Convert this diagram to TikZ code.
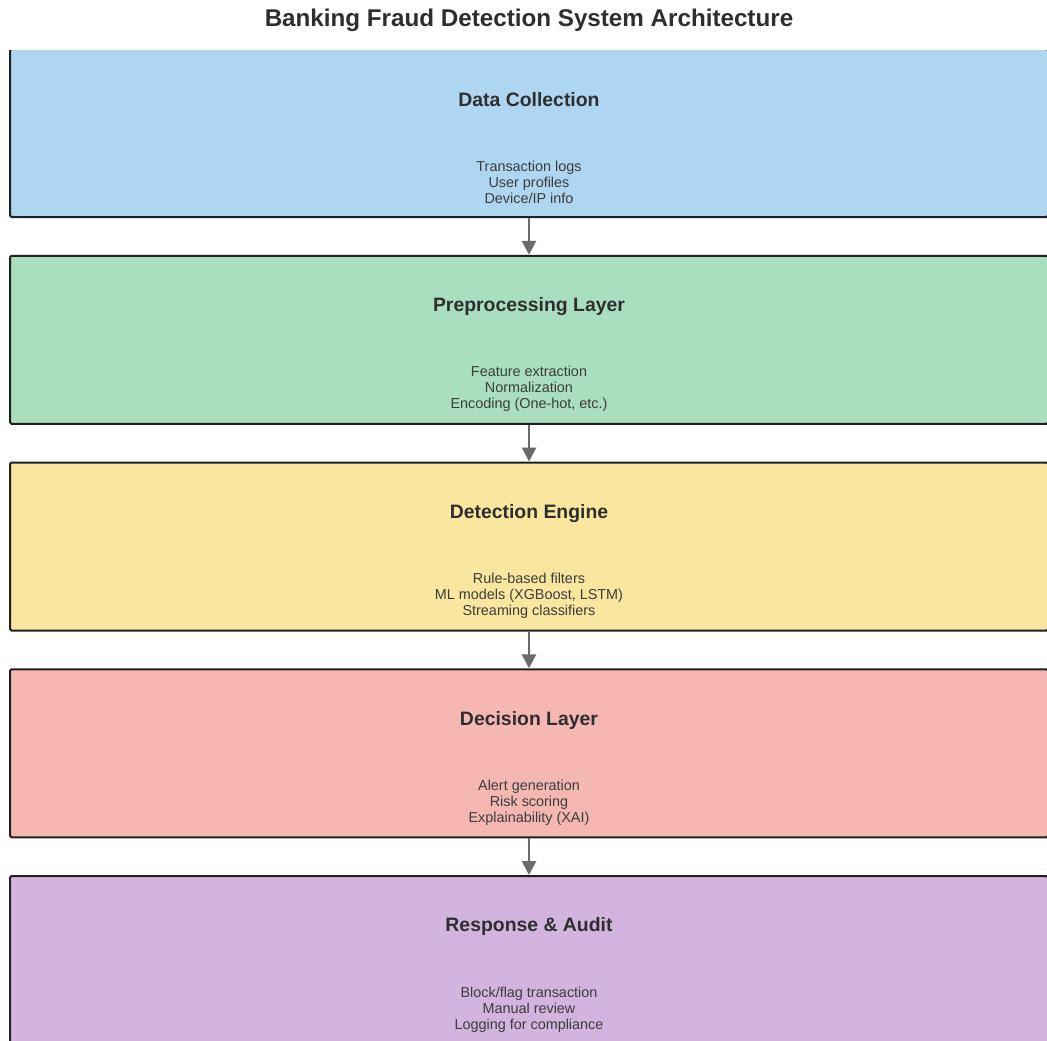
\documentclass[tikz,border=0pt]{standalone}
\usepackage{fontspec}
\setmainfont{Liberation Sans}
\usetikzlibrary{arrows.meta}
\definecolor{cblue}{HTML}{AED6F1}
\definecolor{cgreen}{HTML}{A9DFBF}
\definecolor{cyellow}{HTML}{F9E79F}
\definecolor{cred}{HTML}{F5B7B1}
\definecolor{cpurple}{HTML}{D2B4DE}
\definecolor{textdark}{HTML}{2E2E2E}
\definecolor{textbody}{HTML}{3C3C3C}
\definecolor{bordercol}{HTML}{202020}
\definecolor{arrowgray}{HTML}{6A6A6A}
\begin{document}
\begin{tikzpicture}[x=1pt,y=1pt,
  layer/.style={draw=bordercol, line width=2pt, rounded corners=1.5pt,
    minimum width=1038pt, minimum height=168pt, inner sep=0pt},
  headtxt/.style={font=\fontsize{19.4}{22}\selectfont\bfseries, text=textdark},
  bodytxt/.style={font=\fontsize{14.4}{16}\selectfont, text=textbody, align=center},
  flow/.style={draw=arrowgray, line width=2.7pt, -{Triangle[length=14pt,width=14pt]}}]
\useasboundingbox (0,0) rectangle (1047,-1041);
\node[font=\fontsize{24.2}{28}\selectfont\bfseries, text=textdark] (title) at (529,-20.5)
  {Banking Fraud Detection System Architecture};
\begin{scope}
\clip (0,-51) rectangle (1047,-1041);
\node[layer, fill=cblue]   (b1) at (529,-133)    {};
\node[layer, fill=cgreen]  (b2) at (529,-339.75) {};
\node[layer, fill=cyellow] (b3) at (529,-546.5)  {};
\node[layer, fill=cred]    (b4) at (529,-753.25) {};
\node[layer, fill=cpurple] (b5) at (529,-960)    {};
\end{scope}
\node[headtxt] (h1) at ([yshift=33.2pt]b1.center) {Data Collection};
\node[bodytxt] (d1) at ([yshift=-49.3pt]b1.center) {Transaction logs\\User profiles\\Device/IP info};
\node[headtxt] (h2) at ([yshift=33.2pt]b2.center) {Preprocessing Layer};
\node[bodytxt] (d2) at ([yshift=-49.3pt]b2.center) {Feature extraction\\Normalization\\Encoding (One-hot, etc.)};
\node[headtxt] (h3) at ([yshift=33.2pt]b3.center) {Detection Engine};
\node[bodytxt] (d3) at ([yshift=-49.3pt]b3.center) {Rule-based filters\\ML models (XGBoost, LSTM)\\Streaming classifiers};
\node[headtxt] (h4) at ([yshift=33.2pt]b4.center) {Decision Layer};
\node[bodytxt] (d4) at ([yshift=-49.3pt]b4.center) {Alert generation\\Risk scoring\\Explainability (XAI)};
\node[headtxt] (h5) at ([yshift=33.2pt]b5.center) {Response \& Audit};
\node[bodytxt] (d5) at ([yshift=-49.3pt]b5.center) {Block/flag transaction\\Manual review\\Logging for compliance};
\draw[flow] (b1.south) -- (b2.north);
\draw[flow] (b2.south) -- (b3.north);
\draw[flow] (b3.south) -- (b4.north);
\draw[flow] (b4.south) -- (b5.north);
\end{tikzpicture}
\end{document}
